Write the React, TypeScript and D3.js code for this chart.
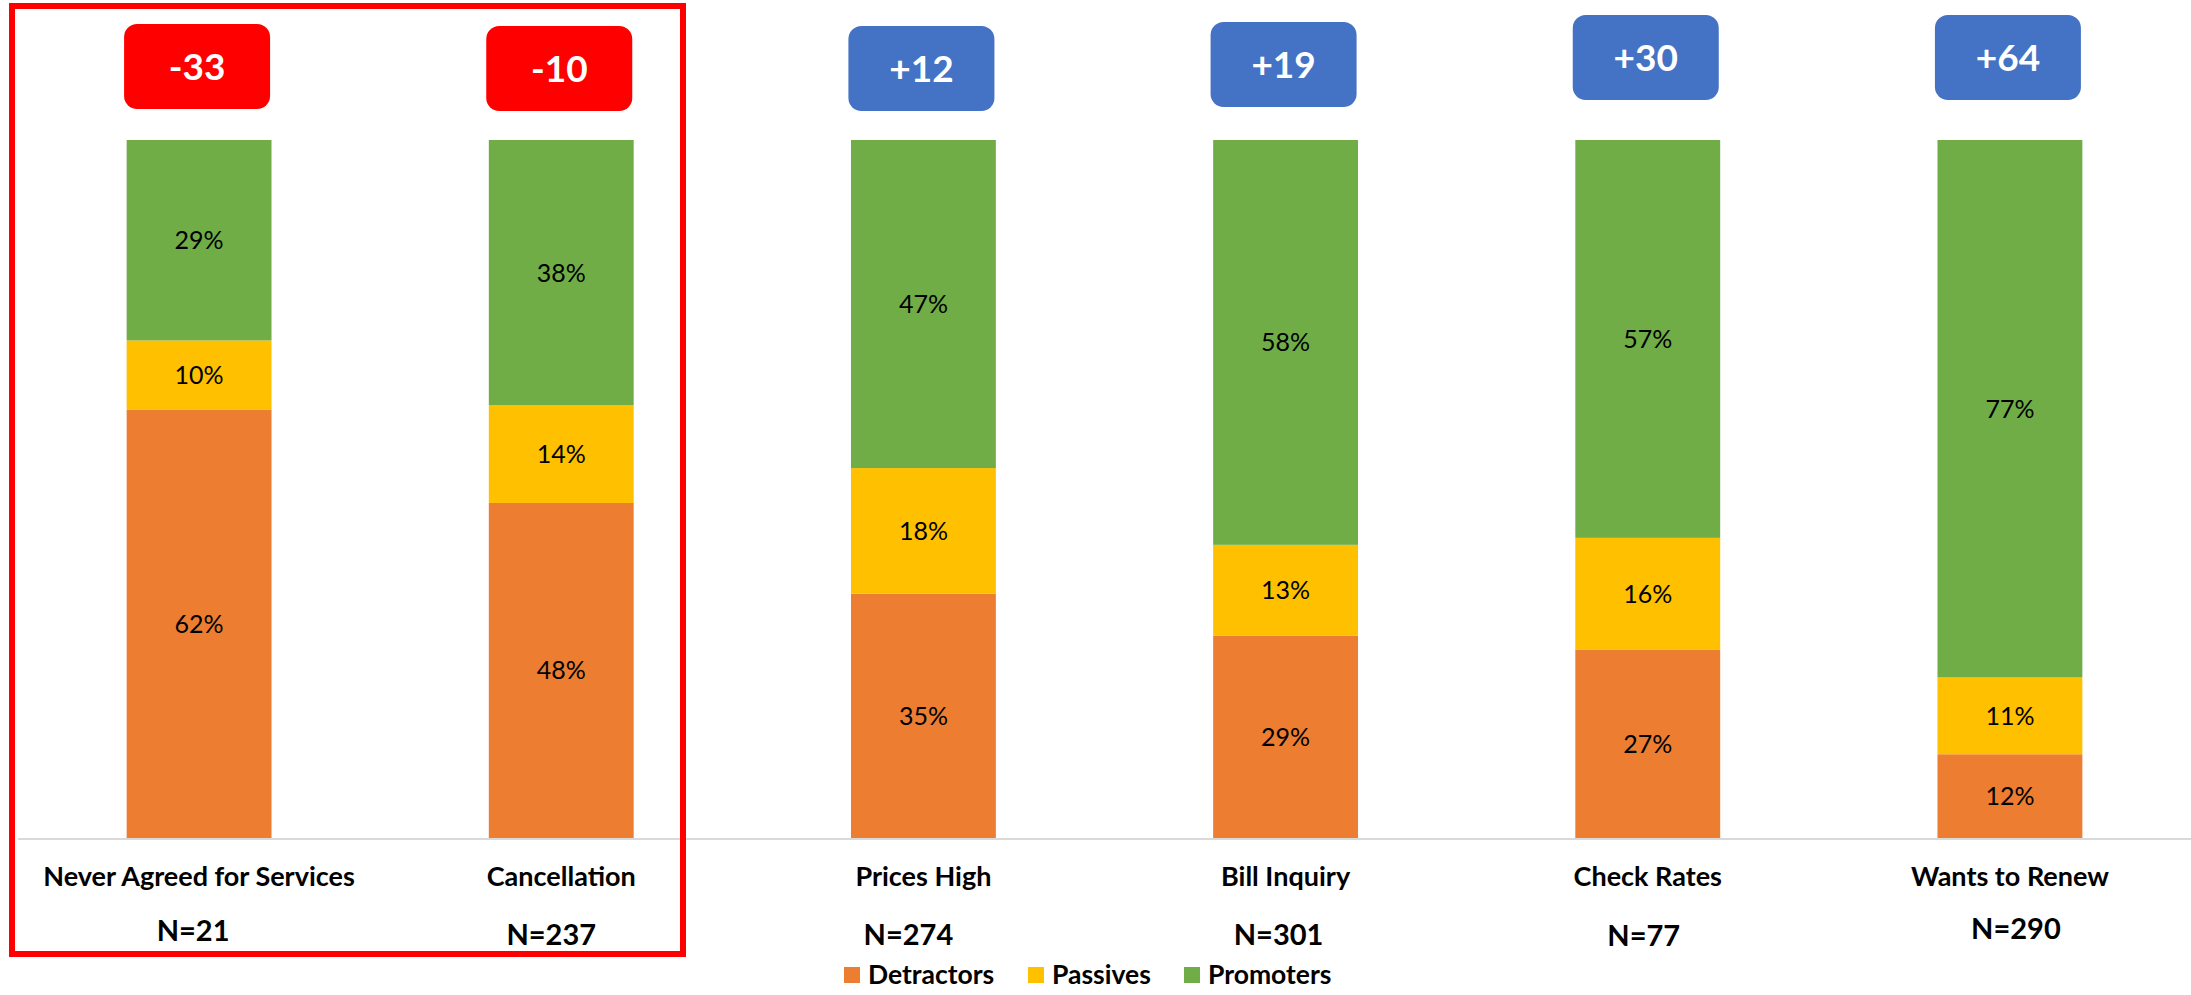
import React from "react";
import * as d3 from "d3";

// Survey reasons and their NPS breakdown (percent of respondents)
const categories = [
  "Never Agreed for Services",
  "Cancellation",
  "Prices High",
  "Bill Inquiry",
  "Check Rates",
  "Wants to Renew",
];
const detractors = [62, 48, 35, 29, 27, 12];
const passives = [10, 14, 18, 13, 16, 11];
const promoters = [29, 38, 47, 58, 57, 77];
const npsScores = [-33, -10, 12, 19, 30, 64];
const sampleSizes = [21, 237, 274, 301, 77, 290];

const seriesKeys = ["detractors", "passives", "promoters"] as const;
const seriesLabels = ["Detractors", "Passives", "Promoters"];
const seriesColors = ["#ED7D31", "#FFC000", "#70AD47"];

// Layout
const W = 2191;
const H = 995;
const BASE_Y = 838;
const TOP_Y = 140;
const FONT = "Lato, 'Open Sans', sans-serif";
const badgeTops = [24, 26, 26, 22, 15, 15];
const nLabelNudgeX = [-6, -10, -15, -7, -4, 6];
const nLabelBaseline = [941, 945, 945, 945, 946, 939];

export default function App() {
  const rows = categories.map((c, i) => ({
    category: c,
    detractors: detractors[i],
    passives: passives[i],
    promoters: promoters[i],
  }));

  const stacked = d3
    .stack<any>()
    .keys(seriesKeys as unknown as string[])
    .offset(d3.stackOffsetExpand)(rows);

  const x = d3
    .scaleBand<string>()
    .domain(categories)
    .range([18, W])
    .paddingInner(0.6)
    .paddingOuter(0.3);

  const y = d3.scaleLinear().domain([0, 1]).range([BASE_Y, TOP_Y]);

  const bw = x.bandwidth();
  const badgeW = 146;
  const badgeH = 85;

  const legendX = [844, 1028, 1184];

  return (
    <svg
      width={W}
      height={H}
      style={{ position: "absolute", left: 0, top: 0, background: "#fff" }}
      fontFamily={FONT}
    >
      {/* stacked bars */}
      {stacked.map((layer, si) => (
        <g key={layer.key} fill={seriesColors[si]}>
          {layer.map((d, i) => (
            <rect
              key={i}
              x={x(categories[i])}
              y={y(d[1])}
              width={bw}
              height={y(d[0]) - y(d[1])}
            />
          ))}
        </g>
      ))}

      {/* segment value labels */}
      {stacked.map((layer, si) => (
        <g key={"lbl-" + layer.key}>
          {layer.map((d, i) => (
            <text
              key={i}
              x={(x(categories[i]) as number) + bw / 2}
              y={(y(d[0]) + y(d[1])) / 2}
              dy="0.36em"
              textAnchor="middle"
              fontSize={25}
              fill="#000"
            >
              {(rows[i] as any)[layer.key]}%
            </text>
          ))}
        </g>
      ))}

      {/* baseline */}
      <line x1={18} x2={W} y1={BASE_Y + 1} y2={BASE_Y + 1} stroke="#D9D9D9" strokeWidth={2} />

      {/* NPS badges */}
      {npsScores.map((s, i) => {
        const cx = (x(categories[i]) as number) + bw / 2;
        return (
          <g key={"badge-" + i}>
            <rect
              x={cx - badgeW / 2 - 2}
              y={badgeTops[i]}
              width={badgeW}
              height={badgeH}
              rx={13}
              ry={13}
              fill={s < 0 ? "#FF0000" : "#4472C4"}
            />
            <text
              x={cx - 2}
              y={badgeTops[i] + badgeH / 2}
              dy="0.36em"
              textAnchor="middle"
              fontSize={37}
              fontWeight="bold"
              fill="#fff"
            >
              {s > 0 ? "+" + s : String(s)}
            </text>
          </g>
        );
      })}

      {/* category labels and sample sizes */}
      {categories.map((c, i) => {
        const cx = (x(c) as number) + bw / 2;
        return (
          <g key={"cat-" + i} fontWeight="bold" fill="#000" textAnchor="middle">
            <text x={cx} y={886} fontSize={27}>
              {c}
            </text>
            <text x={cx + nLabelNudgeX[i]} y={nLabelBaseline[i]} fontSize={29}>
              N={sampleSizes[i]}
            </text>
          </g>
        );
      })}

      {/* highlight frame around the negative-score reasons */}
      <rect x={12} y={6} width={671} height={948} fill="none" stroke="#FF0000" strokeWidth={6} />

      {/* legend */}
      {seriesLabels.map((l, i) => (
        <g key={"leg-" + i}>
          <rect x={legendX[i]} y={967} width={16} height={16} fill={seriesColors[i]} />
          <text x={legendX[i] + 24} y={984} fontSize={26.5} fontWeight="bold" fill="#000">
            {l}
          </text>
        </g>
      ))}
    </svg>
  );
}
